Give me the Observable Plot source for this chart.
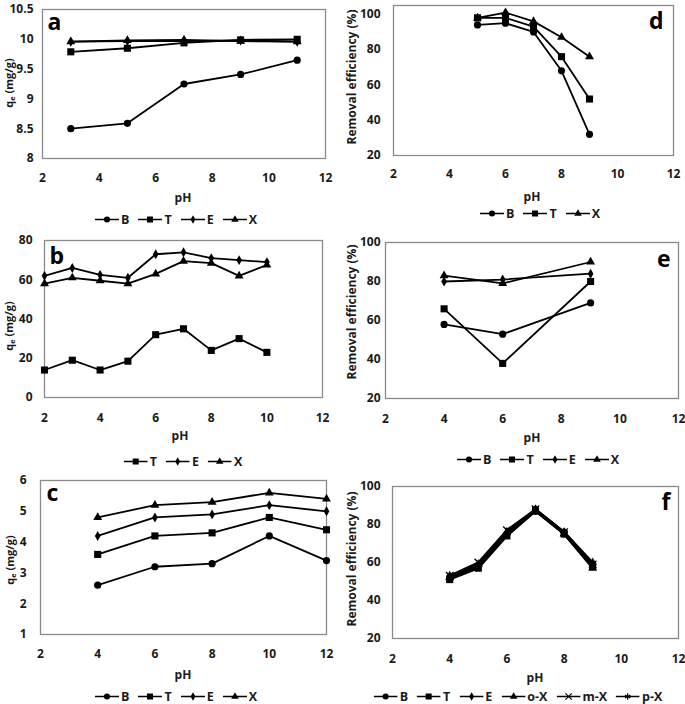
<!DOCTYPE html>
<html><head><meta charset="utf-8">
<script src="https://cdn.jsdelivr.net/npm/d3@7"></script>
<script src="https://cdn.jsdelivr.net/npm/@observablehq/plot@0.6"></script>
<style>
body{margin:0;background:#fff;font-family:"Open Sans",sans-serif;}
#c{position:relative;width:685px;height:704px;overflow:hidden;background:#fff;}
.lab{position:absolute;font-weight:700;font-size:12px;color:#1a1a1a;white-space:nowrap;line-height:1;}
.leg{position:absolute;display:flex;align-items:center;font-weight:700;font-size:12.5px;color:#1a1a1a;white-space:nowrap;transform:translate(-50%,-50%);}
.leg span{margin-left:2px;margin-right:9px;}
.leg span:last-child{margin-right:0;}
</style></head><body><div id="c"></div>
<script>
// ---- data ----
const pH_a = [3, 5, 7, 9, 11];
const a_B = [8.5, 8.59, 9.25, 9.41, 9.65];
const a_T = [9.79, 9.85, 9.94, 9.99, 10.0];
const a_E = [9.96, 9.97, 9.97, 9.98, 9.96];
const a_X = [9.96, 9.98, 9.99, 9.97, 9.96];

const pH_b = [2, 3, 4, 5, 6, 7, 8, 9, 10];
const b_T = [14, 19, 14, 18.5, 32, 35, 24, 30, 23];
const b_E = [62, 66, 62.5, 61, 73, 74, 71, 70, 69];
const b_X = [58, 61, 59.5, 58, 63, 69.5, 68.5, 62, 67.5];

const pH_c = [4, 6, 8, 10, 12];
const c_B = [2.6, 3.2, 3.3, 4.2, 3.4];
const c_T = [3.6, 4.2, 4.3, 4.8, 4.4];
const c_E = [4.2, 4.8, 4.9, 5.2, 5.0];
const c_X = [4.8, 5.2, 5.3, 5.6, 5.4];

const pH_d = [5, 6, 7, 8, 9];
const d_B = [94, 95, 90, 68, 32];
const d_T = [98, 98, 93, 76, 52];
const d_X = [98, 101, 96, 87, 76];

const pH_e = [4, 6, 9];
const e_B = [58, 53, 69];
const e_T = [66, 38, 80];
const e_E = [80, 81, 84];
const e_X = [83, 79, 90];

const pH_f = [4, 5, 6, 7, 8, 9];
const f_B = [52, 58, 75, 88, 76, 59];
const f_T = [51, 57, 74, 87, 75, 58];
const f_E = [53, 59, 76, 88, 76, 60];
const f_oX = [52, 59, 76, 87.5, 75, 57];
const f_mX = [53, 60, 77, 88, 76, 59];
const f_pX = [52, 58, 75, 87, 75, 58];

const xTicks = [2, 4, 6, 8, 10, 12];
const ticks_a = [8, 8.5, 9, 9.5, 10, 10.5];
const ticks_b = [0, 20, 40, 60, 80];
const ticks_c = [1, 2, 3, 4, 5, 6];
const ticks_re = [20, 40, 60, 80, 100];

const SYM = {B: "circle", T: "square", E: "diamond", X: "triangle", "o-X": "triangle", "m-X": "times", "p-X": "asterisk"};
const RAD = {circle: 3.6, square: 4, diamond: 3, triangle: 3.3, times: 3.5, asterisk: 3.5};
const FILLED = {circle: true, square: true, diamond: true, triangle: true, times: false, asterisk: false};

const C = document.getElementById("c");
const fam = '"Open Sans", sans-serif';

function panel(p) {
  const ML = 50, MR = 8, MT = 8, MB = 30;
  const W = p.r - p.l + ML + MR, H = p.b - p.t + MT + MB;
  const marks = [Plot.frame({stroke: "#8a8a8a", strokeWidth: 1.3})];
  for (const s of p.series) {
    const data = p.x.map((x, i) => ({x, y: s.values[i]}));
    const sym = SYM[s.name];
    marks.push(Plot.line(data, {x: "x", y: "y", stroke: "#000", strokeWidth: p.sw || 1.8}));
    marks.push(Plot.dot(data, {x: "x", y: "y", symbol: sym, r: RAD[sym],
      fill: FILLED[sym] ? "#000" : "none", stroke: "#000", strokeWidth: FILLED[sym] ? 0 : 1.3}));
  }
  const right = p.letterRight;
  marks.push(Plot.text([p.letter], {text: d => d, frameAnchor: right ? "top-right" : "top-left",
    textAnchor: right ? "end" : "start", lineAnchor: "top", dx: p.ldx, dy: p.ldy,
    fontSize: 23, fontWeight: 700, fill: "#000"}));
  const svg = Plot.plot({
    width: W, height: H, marginLeft: ML, marginRight: MR, marginTop: MT, marginBottom: MB,
    style: {fontFamily: fam, fontSize: "12px", fontWeight: 700, color: "#1a1a1a", background: "transparent", overflow: "visible"},
    x: {domain: [2, 12], ticks: xTicks, tickSize: 0, tickPadding: p.xpad, label: null, tickFormat: d => String(d)},
    y: {domain: p.yd, ticks: p.yt, tickSize: 0, tickPadding: p.ypad, label: null, tickFormat: d => String(d)},
    marks
  });
  svg.style.position = "absolute";
  svg.style.left = (p.l - ML) + "px";
  svg.style.top = (p.t - MT) + "px";
  C.appendChild(svg);

  // y label
  const yl = document.createElement("div");
  yl.className = "lab";
  yl.style.fontSize = p.ylfs + "px";
  yl.innerHTML = p.ylabel;
  yl.style.left = p.ylx + "px";
  yl.style.top = p.yly + "px";
  yl.style.transform = "translate(-50%,-50%) rotate(-90deg)";
  C.appendChild(yl);

  // x label
  const xl = document.createElement("div");
  xl.className = "lab";
  xl.textContent = "pH";
  xl.style.left = p.pHx + "px";
  xl.style.top = p.pHy + "px";
  xl.style.transform = "translate(-50%,-50%)";
  C.appendChild(xl);

  // legend
  const lg = document.createElement("div");
  lg.className = "leg";
  lg.style.left = p.legx + "px";
  lg.style.top = p.legy + "px";
  const d3sym = {circle: d3.symbolCircle, square: d3.symbolSquare, diamond: d3.symbolDiamond,
    triangle: d3.symbolTriangle, times: d3.symbolTimes, asterisk: d3.symbolAsterisk};
  for (const s of p.series) {
    const sym = SYM[s.name];
    const r = RAD[sym] * 0.85;
    const path = d3.symbol(d3sym[sym], Math.PI * r * r)();
    const sv = document.createElementNS("http://www.w3.org/2000/svg", "svg");
    sv.setAttribute("width", 24); sv.setAttribute("height", 12);
    sv.innerHTML = `<line x1="0" x2="24" y1="6" y2="6" stroke="#000" stroke-width="1.6"/>` +
      `<path d="${path}" transform="translate(12,6)" fill="${FILLED[sym] ? "#000" : "none"}" stroke="#000" stroke-width="${FILLED[sym] ? 0 : 1.2}"/>`;
    lg.appendChild(sv);
    const sp = document.createElement("span");
    sp.textContent = s.name;
    lg.appendChild(sp);
  }
  C.appendChild(lg);
}

const QE = 'q<span style="font-size:0.65em;position:relative;top:0.3em">e</span> (mg/g)';
const RE = "Removal efficiency (%)";

panel({l: 42, r: 325, t: 9, b: 158, x: pH_a, yd: [8, 10.5], yt: ticks_a, xpad: 14.5, ypad: 9,
  series: [{name: "B", values: a_B}, {name: "T", values: a_T}, {name: "E", values: a_E}, {name: "X", values: a_X}],
  letter: "a", letterRight: false, ldx: 5, ldy: 4,
  ylabel: QE, ylfs: 11, ylx: 9, yly: 83, pHx: 183, pHy: 198, legx: 176, legy: 219});

panel({l: 393, r: 673, t: 5, b: 155, x: pH_d, yd: [20, 105], yt: ticks_re, xpad: 13.5, ypad: 13,
  series: [{name: "B", values: d_B}, {name: "T", values: d_T}, {name: "X", values: d_X}],
  letter: "d", letterRight: true, ldx: -10, ldy: 7,
  ylabel: RE, ylfs: 12, ylx: 352, yly: 77, pHx: 532, pHy: 197, legx: 540, legy: 213});

panel({l: 44, r: 322, t: 240, b: 397, x: pH_b, yd: [0, 80], yt: ticks_b, xpad: 15.5, ypad: 12,
  series: [{name: "T", values: b_T}, {name: "E", values: b_E}, {name: "X", values: b_X}],
  letter: "b", letterRight: false, ldx: 5, ldy: 7,
  ylabel: QE, ylfs: 11, ylx: 9, yly: 326, pHx: 180, pHy: 436, legx: 183, legy: 461});

panel({l: 385, r: 678, t: 242, b: 398, x: pH_e, yd: [20, 100], yt: ticks_re, xpad: 15.5, ypad: 5,
  series: [{name: "B", values: e_B}, {name: "T", values: e_T}, {name: "E", values: e_E}, {name: "X", values: e_X}],
  letter: "e", letterRight: true, ldx: -8, ldy: 8,
  ylabel: RE, ylfs: 12, ylx: 352, yly: 312, pHx: 532, pHy: 438, legx: 538, legy: 459});

panel({l: 40, r: 326, t: 480, b: 634, x: pH_c, yd: [1, 6], yt: ticks_c, xpad: 14.5, ypad: 14,
  series: [{name: "B", values: c_B}, {name: "T", values: c_T}, {name: "E", values: c_E}, {name: "X", values: c_X}],
  letter: "c", letterRight: false, ldx: 6, ldy: 4,
  ylabel: QE, ylfs: 11, ylx: 10, yly: 560, pHx: 183, pHy: 675, legx: 176, legy: 696});

panel({l: 392, r: 678, t: 486, b: 638, x: pH_f, yd: [20, 100], yt: ticks_re, xpad: 15.5, ypad: 12, sw: 2.2,
  series: [{name: "B", values: f_B}, {name: "T", values: f_T}, {name: "E", values: f_E},
    {name: "o-X", values: f_oX}, {name: "m-X", values: f_mX}, {name: "p-X", values: f_pX}],
  letter: "f", letterRight: true, ldx: -8, ldy: 7,
  ylabel: RE, ylfs: 12, ylx: 352, yly: 559, pHx: 535, pHy: 678, legx: 518, legy: 696});
</script></body></html>
